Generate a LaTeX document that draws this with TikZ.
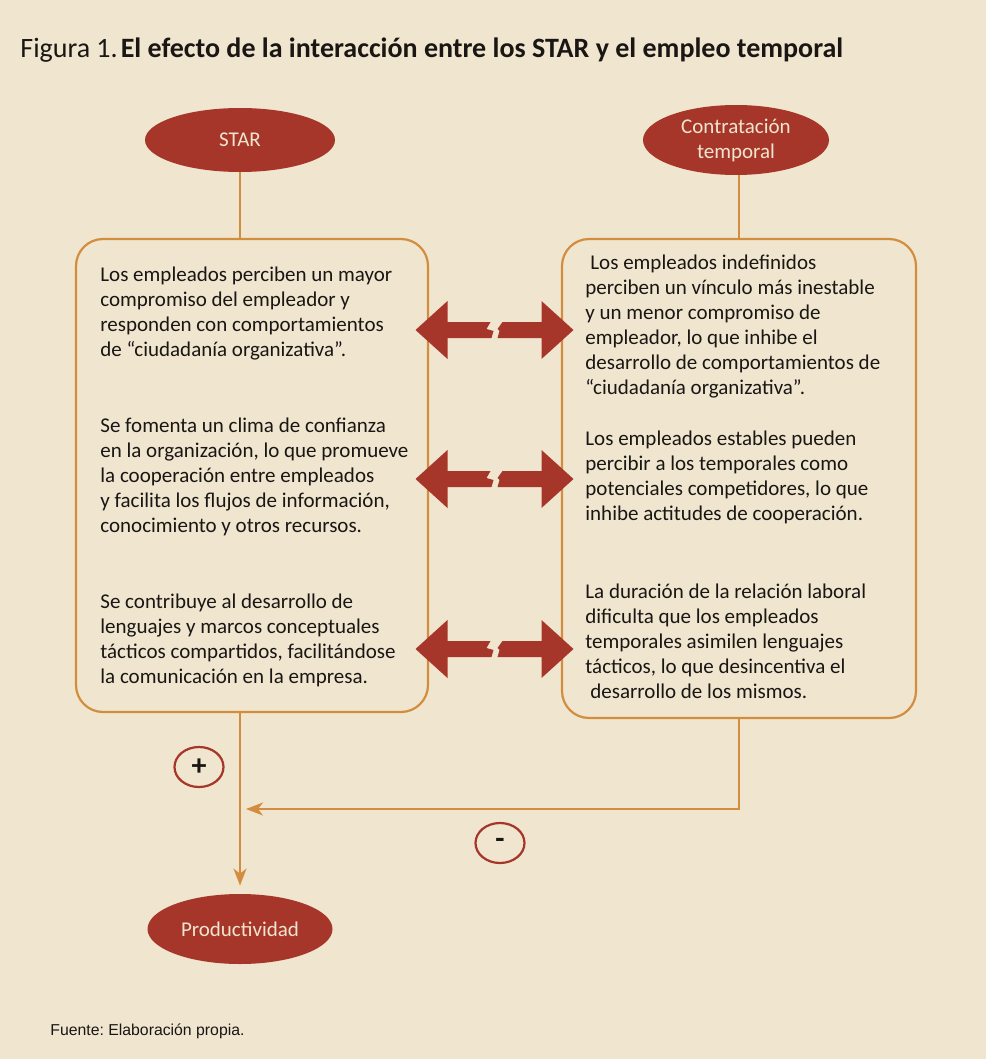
\documentclass[tikz,border=0pt]{standalone}
\usepackage{fontspec}
\setmainfont{Carlito}
\setsansfont{Liberation Sans}
\usetikzlibrary{arrows.meta,positioning,calc,shapes.geometric}
\definecolor{paper}{RGB}{240,229,207}
\definecolor{amber}{RGB}{210,142,62}
\definecolor{brick}{RGB}{167,54,42}
\definecolor{ink}{RGB}{25,22,20}
\tikzset{
  oval/.style={ellipse, fill=brick, text=paper, inner sep=0pt, align=center,
               font=\fontsize{10.5}{12.5}\selectfont},
  panel/.style={draw=amber, line width=1.1pt, rounded corners=13.5pt, inner sep=0pt},
  para/.style={anchor=north west, inner sep=0pt, align=left, text=ink,
               font=\fontsize{10.5}{12.5}\selectfont},
  link/.style={draw=amber, line width=1.1pt},
  tip/.style={-{Stealth[length=8.5pt,width=6.5pt,inset=2.5pt]}},
  sign/.style={ellipse, draw=brick, line width=1.1pt, minimum width=24.5pt,
               minimum height=20pt, inner sep=0pt, text=ink,
               font=\fontsize{15}{15}\selectfont\bfseries},
  brokenarrow/.pic={
    \fill[brick] (-79,0) -- (-47,-29) -- (-47,-8) -- (-4,-8) -- (-8,-1)
      -- (-1,1) -- (-3,8) -- (-47,8) -- (-47,29) -- cycle;
    \fill[brick] (79,0) -- (47,-29) -- (47,-8) -- (8,-8) -- (3,-1)
      -- (5,1) -- (3,8) -- (47,8) -- (47,29) -- cycle;
  }
}

\begin{document}
\begin{tikzpicture}[x=0.5pt, y=-0.5pt]
%% ---- page ----
\fill[paper] (0,0) rectangle (986,1059);
\useasboundingbox (0,0) rectangle (986,1059);

\node[anchor=base west, inner sep=0pt, text=ink, font=\fontsize{14}{16}\selectfont]
  (title) at (20,58) {Figura 1.\hspace{1.5pt}\textbf{El efecto de la interacción entre los STAR y el empleo temporal}};

%% ---- causes ----
\node[oval, minimum width=95pt, minimum height=32pt] (star) at (240,140) {STAR};
\node[oval, minimum width=93pt, minimum height=35pt] (temp) at (736,140) {Contratación\\temporal};

%% ---- panels ----
\node[panel, minimum width=176pt, minimum height=236.5pt] (leftbox) at (252,475.5) {};
\node[panel, minimum width=177pt, minimum height=239.5pt] (rightbox) at (739,478.5) {};

\node[para] (l1) at (100,267) {Los empleados perciben un mayor\\compromiso del empleador y\\responden con comportamientos\\de “ciudadanía organizativa”.};
\node[para] (l2) at (100,418) {Se fomenta un clima de confianza\\en la organización, lo que promueve\\la cooperación entre empleados\\y facilita los flujos de información,\\conocimiento y otros recursos.};
\node[para] (l3) at (100,594) {Se contribuye al desarrollo de\\lenguajes y marcos conceptuales\\tácticos compartidos, facilitándose\\la comunicación en la empresa.};

\node[para] (r1) at (585,255) {\hspace*{2.5pt}Los empleados indefinidos\\perciben un vínculo más inestable\\y un menor compromiso de\\empleador, lo que inhibe el\\desarrollo de comportamientos de\\“ciudadanía organizativa”.};
\node[para] (r2) at (585,431) {Los empleados estables pueden\\percibir a los temporales como\\potenciales competidores, lo que\\inhibe actitudes de cooperación.};
\node[para] (r3) at (585,584) {La duración de la relación laboral\\dificulta que los empleados\\temporales asimilen lenguajes\\tácticos, lo que desincentiva el\\\hspace*{2.5pt}desarrollo de los mismos.};

%% ---- interaction arrows ----
\foreach \y in {330,479,649}
  \pic at (494.5,\y) {brokenarrow};

%% ---- outcome ----
\node[oval, minimum width=92.5pt, minimum height=35pt] (prod) at (240,929) {Productividad};

\draw[link] (star) -- (star |- leftbox.north);
\draw[link] (temp.south -| rightbox.center) -- (rightbox.north);
\draw[link, tip, shorten >=4pt] (star |- leftbox.south) -- (prod);

\coordinate (bend) at (739,809);
\draw[link, tip, shorten >=3pt] (rightbox.south) -- (bend) -- (bend -| prod);

\node[sign] (plus) at (199,767) {+};
\node[sign] (minus) at (500,843) {-};

%% ---- source ----
\node[anchor=base west, inner sep=0pt, text=ink, font=\sffamily\fontsize{7.9}{9}\selectfont]
  (source) at (50,1035) {\frenchspacing Fuente: Elaboración propia.};
\end{tikzpicture}
\end{document}
